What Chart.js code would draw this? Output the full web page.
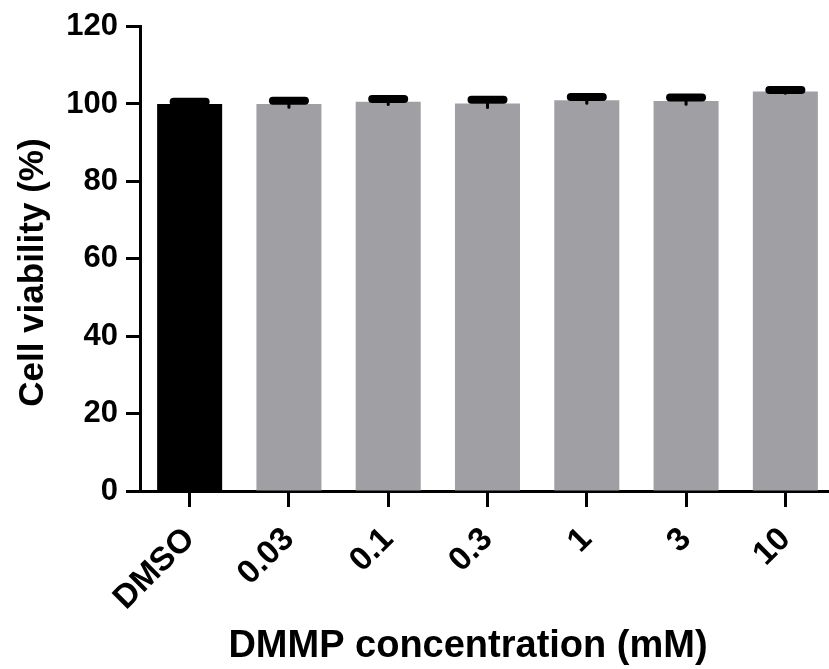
<!DOCTYPE html>
<html>
<head>
<meta charset="utf-8">
<script src="https://cdn.jsdelivr.net/npm/chart.js@4/dist/chart.umd.min.js"></script>
<style>
  html, body { margin: 0; padding: 0; background: #fff; overflow: hidden; }
  #wrap { position: relative; width: 836px; height: 669px; }
</style>
</head>
<body>
<div id="wrap"><canvas id="c" width="836" height="669"></canvas></div>
<script>
// ---- data ----
const categories = ['DMSO', '0.03', '0.1', '0.3', '1', '3', '10'];
const viability  = [100.0, 100.0, 100.6, 100.1, 101.0, 100.8, 103.2];
const semValues  = [0.6, 0.85, 0.7, 1.0, 0.8, 0.85, 0.4];
const yTickValues = [0, 20, 40, 60, 80, 100, 120];
const xTitle = 'DMMP concentration (mM)';
const yTitle = 'Cell viability (%)';

// ---- styles ----
const barColors = ['#000000', '#a0a0a4', '#a0a0a4', '#a0a0a4', '#a0a0a4', '#a0a0a4', '#a0a0a4'];
const FONT = "'Liberation Sans', Arial, Helvetica, sans-serif";

const errorBars = {
  id: 'errorBars',
  afterDatasetsDraw(chart) {
    const ctx = chart.ctx;
    const meta = chart.getDatasetMeta(0);
    const ys = chart.scales.y;
    ctx.save();
    ctx.strokeStyle = '#000';
    ctx.lineCap = 'round';
    meta.data.forEach((bar, i) => {
      const v = viability[i], s = semValues[i];
      const yTop = ys.getPixelForValue(v + s);
      const yLow = ys.getPixelForValue(v - s);
      ctx.lineWidth = 3;
      ctx.beginPath();
      ctx.moveTo(bar.x, yLow);
      ctx.lineTo(bar.x, yTop);
      ctx.stroke();
      ctx.lineWidth = 8;
      ctx.beginPath();
      ctx.moveTo(bar.x - 16, yTop);
      ctx.lineTo(bar.x + 16, yTop);
      ctx.stroke();
    });
    ctx.restore();
  }
};

const titlesPlugin = {
  id: 'titlesPlugin',
  afterDraw(chart) {
    const ctx = chart.ctx;
    const area = chart.chartArea;
    ctx.save();
    ctx.fillStyle = '#000';
    // x-axis title
    ctx.font = 'bold 38px ' + FONT;
    ctx.textAlign = 'center';
    ctx.textBaseline = 'alphabetic';
    ctx.fillText(xTitle, area.left + 328, area.bottom + 166);
    // y-axis title
    ctx.font = 'bold 35px ' + FONT;
    ctx.translate(43, area.top + 246);
    ctx.rotate(-Math.PI / 2);
    ctx.textAlign = 'center';
    ctx.textBaseline = 'alphabetic';
    ctx.fillText(yTitle, 0, 0);
    ctx.restore();
  }
};

new Chart(document.getElementById('c'), {
  type: 'bar',
  data: {
    labels: categories,
    datasets: [{
      data: viability,
      backgroundColor: barColors,
      borderWidth: 0,
      categoryPercentage: 1.0,
      barPercentage: 0.655
    }]
  },
  options: {
    responsive: false,
    animation: false,
    devicePixelRatio: 1,
    layout: { padding: { top: 26, right: 1, bottom: 0, left: 0 } },
    plugins: {
      legend: { display: false },
      tooltip: { enabled: false }
    },
    scales: {
      x: {
        afterFit(scale) { scale.height = 178; },
        grid: {
          offset: false,
          drawOnChartArea: false,
          drawTicks: true,
          tickLength: 16,
          tickWidth: 3,
          tickColor: '#000',
          color: '#000'
        },
        border: { display: true, color: '#000', width: 3 },
        ticks: {
          color: '#000',
          font: { family: FONT, size: 33, weight: 'bold' },
          minRotation: 45,
          maxRotation: 45,
          padding: 13,
          autoSkip: false
        }
      },
      y: {
        min: 0,
        max: 120,
        afterFit(scale) { scale.width = 140; },
        afterBuildTicks(scale) { scale.ticks = yTickValues.map(v => ({ value: v })); },
        grid: {
          drawOnChartArea: false,
          drawTicks: true,
          tickLength: 14,
          tickWidth: 3,
          tickColor: '#000',
          color: '#000'
        },
        border: { display: true, color: '#000', width: 3 },
        ticks: {
          color: '#000',
          font: { family: FONT, size: 31, weight: 'bold' },
          padding: 8
        },
        title: { display: false }
      }
    }
  },
  plugins: [errorBars, titlesPlugin]
});
</script>
</body>
</html>
